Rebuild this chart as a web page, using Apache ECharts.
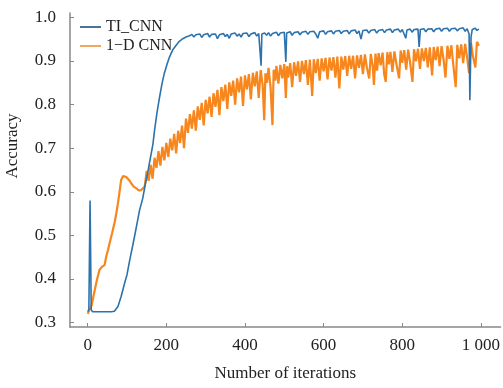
<!DOCTYPE html>
<html>
<head>
<meta charset="utf-8">
<script src="https://cdn.jsdelivr.net/npm/echarts@6/dist/echarts.min.js"></script>
<style>html,body{margin:0;padding:0;background:#fff;}#chart{width:503px;height:388px;}</style>
</head>
<body>
<div id="chart"></div>
<script>
var seriesNames = ['TI_CNN', '1\u2212D CNN'];
var xTicks = [0, 200, 400, 600, 800, 1000];
var xTickLabels = ['0', '200', '400', '600', '800', '1 000'];
var yTicks = [0.3, 0.4, 0.5, 0.6, 0.7, 0.8, 0.9, 1.0];
var yTickLabels = ['0.3', '0.4', '0.5', '0.6', '0.7', '0.8', '0.9', '1.0'];
var xName = 'Number of iterations';
var yName = 'Accuracy';

var tiCnn = [
[0,0.325],[3,0.33],[6,0.58],[9,0.33],[12,0.325],[20,0.325],[30,0.325],[40,0.325],[50,0.325],[60,0.325],[68,0.326],
[77,0.337],[85,0.36],[94,0.391],[100,0.41],[107,0.444],[113,0.47],[119,0.497],[126,0.53],[132,0.558],[140,0.585],
[146,0.615],[153,0.645],[157,0.666],[162,0.69],[166,0.71],[170,0.741],[176,0.78],[183,0.818],[189,0.848],[195,0.872],
[201,0.89],[208,0.909],[216,0.925],[225,0.936],[233,0.945],[242,0.951],[250,0.955],[259,0.958],
[265,0.961],[270,0.955],[275,0.960],[280,0.957],[285,0.962],[290,0.954],[295,0.960],[300,0.958],[305,0.963],[310,0.955],
[315,0.961],[320,0.957],[325,0.962],[330,0.951],[335,0.960],[340,0.958],[345,0.963],[350,0.956],[355,0.961],[360,0.952],
[365,0.962],[370,0.958],[375,0.964],[380,0.957],[385,0.962],[390,0.955],[395,0.963],[400,0.959],[405,0.964],[410,0.956],
[415,0.962],[420,0.960],[425,0.965],[430,0.957],[435,0.963],[439,0.960],[441,0.889],[443,0.962],[445,0.958],[450,0.964],
[455,0.959],[460,0.965],[465,0.957],[470,0.963],[475,0.960],[480,0.966],[485,0.958],[490,0.964],[495,0.961],[500,0.966],
[502,0.962],[504,0.898],[506,0.964],[510,0.960],[515,0.967],[520,0.959],[525,0.965],[530,0.962],[535,0.967],[540,0.960],
[545,0.966],[550,0.963],[555,0.968],[560,0.961],[565,0.967],[570,0.963],[575,0.968],[580,0.962],[585,0.952],[590,0.967],
[595,0.963],[600,0.969],[605,0.961],[610,0.967],[615,0.964],[620,0.969],[625,0.962],[630,0.968],[635,0.964],[640,0.970],
[645,0.963],[650,0.968],[655,0.965],[660,0.970],[665,0.962],[670,0.969],[675,0.965],[680,0.971],[685,0.963],[690,0.969],
[695,0.950],[700,0.970],[705,0.966],[710,0.971],[715,0.964],[720,0.970],[725,0.966],[730,0.972],[735,0.964],[740,0.970],
[745,0.967],[750,0.972],[755,0.965],[760,0.971],[765,0.967],[770,0.973],[775,0.965],[780,0.971],[785,0.968],[790,0.973],
[795,0.966],[800,0.972],[805,0.968],[809,0.952],[812,0.971],[815,0.967],[820,0.973],[825,0.966],[830,0.972],[835,0.968],
[840,0.973],[843,0.932],[846,0.972],[850,0.968],[855,0.974],[860,0.967],[865,0.973],[870,0.969],[875,0.974],[880,0.967],
[885,0.973],[890,0.969],[895,0.975],[900,0.968],[905,0.974],[910,0.970],[915,0.975],[920,0.968],[925,0.974],[930,0.970],
[935,0.975],[940,0.969],[945,0.974],[950,0.970],[955,0.976],[960,0.968],[965,0.974],[970,0.962],[972,0.81],[975,0.955],
[978,0.972],[982,0.969],[986,0.975],[990,0.970],[995,0.973]
];

var oneDCnn = [
[0,0.32],[5,0.322],[10,0.34],[18,0.375],[24,0.40],[30,0.421],[36,0.428],[43,0.432],[47,0.451],[52,0.468],[56,0.483],
[62,0.505],[69,0.532],[73,0.552],[77,0.574],[81,0.60],[85,0.627],[90,0.636],[94,0.638],[98,0.634],[102,0.631],[106,0.626],
[111,0.619],[117,0.612],[124,0.608],[130,0.603],[136,0.604],[141,0.607],[145,0.612],
[150,0.648],[155,0.625],[160,0.662],[165,0.630],[170,0.678],[175,0.655],[180,0.693],[185,0.660],[190,0.703],[195,0.672],
[200,0.712],[205,0.680],[210,0.722],[215,0.695],[220,0.733],[225,0.688],[230,0.740],[235,0.712],[240,0.752],[245,0.700],
[250,0.768],[255,0.735],[260,0.778],[265,0.745],[270,0.787],[275,0.740],[280,0.796],[285,0.765],[290,0.804],[295,0.752],
[300,0.811],[305,0.780],[310,0.818],[315,0.772],[320,0.826],[325,0.795],[330,0.834],[335,0.776],[340,0.840],[345,0.808],
[350,0.846],[355,0.790],[360,0.851],[365,0.820],[370,0.855],[375,0.800],[380,0.860],[385,0.828],[390,0.864],[395,0.797],
[400,0.867],[405,0.835],[410,0.870],[415,0.812],[420,0.873],[425,0.842],[430,0.876],[435,0.815],[440,0.879],[445,0.845],
[449,0.764],[452,0.872],[456,0.850],[460,0.884],[465,0.840],[470,0.753],[473,0.880],[477,0.855],[480,0.889],[485,0.848],
[490,0.891],[495,0.860],[500,0.893],[504,0.815],[507,0.888],[510,0.862],[515,0.895],[520,0.840],[525,0.897],[530,0.866],
[535,0.899],[540,0.852],[545,0.900],[550,0.870],[555,0.902],[560,0.845],[565,0.903],[571,0.820],[575,0.904],[580,0.872],
[585,0.905],[590,0.855],[595,0.906],[600,0.876],[605,0.907],[610,0.858],[615,0.908],[620,0.878],[625,0.909],[630,0.862],
[635,0.910],[640,0.837],[645,0.910],[650,0.880],[655,0.911],[660,0.866],[665,0.912],[670,0.882],[675,0.912],[680,0.860],
[685,0.913],[690,0.884],[695,0.914],[700,0.870],[705,0.915],[710,0.885],[716,0.860],[720,0.916],[725,0.888],[728,0.845],
[732,0.917],[736,0.878],[740,0.918],[745,0.890],[750,0.919],[754,0.870],[758,0.852],[762,0.920],[766,0.892],[770,0.921],
[775,0.875],[780,0.922],[785,0.894],[792,0.860],[796,0.924],[800,0.896],[805,0.925],[810,0.880],[815,0.926],[820,0.897],
[826,0.852],[830,0.927],[835,0.899],[840,0.928],[845,0.882],[850,0.929],[855,0.900],[860,0.930],[865,0.885],[870,0.931],
[876,0.867],[880,0.932],[885,0.902],[890,0.933],[895,0.888],[900,0.934],[905,0.904],[910,0.862],[915,0.935],[920,0.905],
[925,0.936],[930,0.890],[936,0.840],[940,0.937],[945,0.906],[950,0.938],[955,0.895],[960,0.939],[965,0.908],[970,0.872],
[975,0.941],[980,0.910],[986,0.885],[990,0.944],[995,0.935]
];

var FONT = '"Liberation Serif", "DejaVu Serif", serif';
var chart = echarts.init(document.getElementById('chart'), null, {renderer: 'canvas'});
chart.setOption({
  backgroundColor: '#ffffff',
  animation: false,
  grid: {left: 70, right: 1, top: 13, bottom: 61, containLabel: false},
  legend: {
    data: [
      {name: seriesNames[0], itemStyle: {opacity: 0}, lineStyle: {color: '#4d7396', width: 2}},
      {name: seriesNames[1], itemStyle: {opacity: 0}, lineStyle: {color: '#f0a860', width: 2}}
    ],
    orient: 'vertical',
    left: 79, top: 19, padding: 0,
    itemWidth: 21, itemHeight: 14, itemGap: 3,
    textStyle: {fontFamily: FONT, fontSize: 16, lineHeight: 16, color: '#222'}
  },
  xAxis: {
    type: 'value', min: -45, max: 1050,
    name: xName, nameLocation: 'middle', nameGap: 38,
    nameTextStyle: {fontFamily: FONT, fontSize: 17, color: '#222'},
    splitLine: {show: false},
    axisLine: {onZero: false, lineStyle: {color: '#888', width: 1.5}},
    axisTick: {inside: true, length: 4, customValues: xTicks, lineStyle: {color: '#888'}},
    axisLabel: {customValues: xTicks, margin: 10, fontFamily: FONT, fontSize: 17, color: '#222',
      formatter: function (v) { var i = xTicks.indexOf(v); return i >= 0 ? xTickLabels[i] : ''; }}
  },
  yAxis: {
    type: 'value', min: 0.29, max: 1.01,
    splitLine: {show: false},
    axisLine: {show: true, onZero: false, lineStyle: {color: '#888', width: 1.5}},
    axisTick: {show: true, inside: true, length: 4, customValues: yTicks, lineStyle: {color: '#888'}},
    axisLabel: {customValues: yTicks, margin: 14, fontFamily: FONT, fontSize: 17, color: '#222',
      formatter: function (v) { for (var i = 0; i < yTicks.length; i++) { if (Math.abs(yTicks[i] - v) < 1e-6) return yTickLabels[i]; } return ''; }}
  },
  graphic: [
    {type: 'text', x: 13, y: 146, rotation: Math.PI / 2,
     style: {text: yName, fontFamily: FONT, fontSize: 17, fill: '#222', align: 'center', verticalAlign: 'middle'}}
  ],
  series: [
    {name: seriesNames[1], type: 'line', data: oneDCnn, symbol: 'none', showSymbol: false, z: 2,
     lineStyle: {color: '#f7861c', width: 2.2}, itemStyle: {color: '#f7861c'}},
    {name: seriesNames[0], type: 'line', data: tiCnn, symbol: 'none', showSymbol: false, z: 3,
     lineStyle: {color: '#2c73ad', width: 1.6}, itemStyle: {color: '#2c73ad'}}
  ]
});
</script>
</body>
</html>
